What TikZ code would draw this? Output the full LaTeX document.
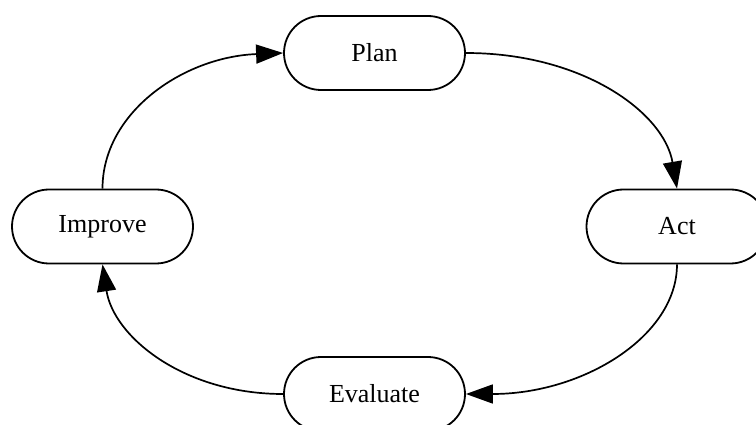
\documentclass[tikz,border=0pt]{standalone}
\usepackage{fontspec}
\setmainfont{Liberation Serif}
\usetikzlibrary{arrows.meta,shapes.misc}
\tikzset{
  stage/.style={draw=black, line width=1.8pt, rounded rectangle, minimum width=181pt, minimum height=74pt, inner sep=0pt, font=\fontsize{26}{30}\selectfont, fill=white},
  flow/.style={line width=1.7pt, -{Triangle[length=27pt,width=19pt]}}
}
\begin{document}
\begin{tikzpicture}[x=1pt,y=-1pt]
\useasboundingbox (0,0) rectangle (756,425);
\node[stage] (plan) at (374.5,53) {Plan};
\node[stage] (act) at (677,226.5) {Act};
\node[stage] (improve) at (102.5,226.5) {Improve};
\node[stage] (evaluate) at (374.5,394) {Evaluate};
\draw[flow] (plan.east) .. controls +(117,0) and +(-13,-76) .. (act.north);
\draw[flow] (act.south) .. controls +(0,72) and +(117,0) .. (evaluate.east);
\draw[flow] (evaluate.west) .. controls +(-100,0) and +(11,72) .. (improve.south);
\draw[flow] (improve.north) .. controls +(0,-76) and +(-100,4) .. (plan.west);
\end{tikzpicture}
\end{document}
